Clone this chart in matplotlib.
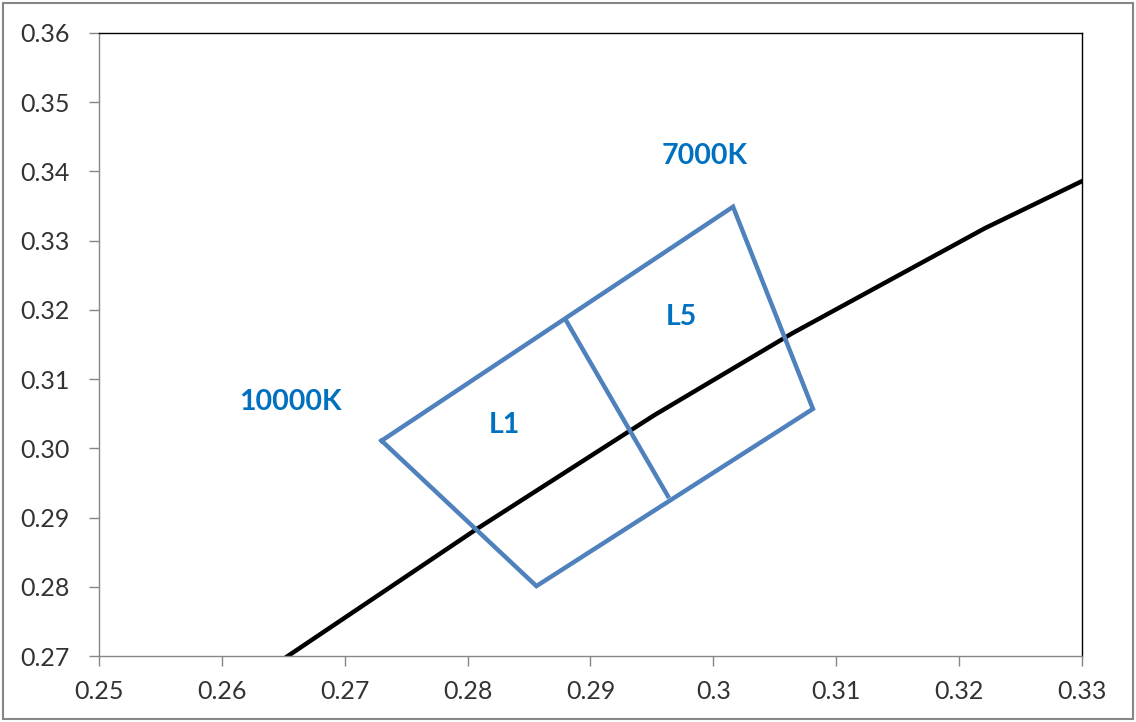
import matplotlib
matplotlib.use('Agg')
import matplotlib.pyplot as plt
from matplotlib.patches import Rectangle

plt.rcParams['font.family'] = ['Lato', 'DejaVu Sans']

# Planckian locus points (15000K, 10000K, 8000K, 7000K, 6000K, 5000K)
locus_x = [0.2637, 0.2807, 0.2952, 0.3064, 0.3221, 0.3451]
locus_y = [0.2680, 0.2883, 0.3048, 0.3166, 0.3318, 0.3516]

# bin outline: left, top, right, bottom corners
bin_x = [0.2730, 0.3016, 0.3081, 0.2856, 0.2730]
bin_y = [0.3011, 0.3349, 0.3057, 0.2801, 0.3011]
# divider between L1 and L5
div_x = [0.2880, 0.2963]
div_y = [0.3185, 0.2931]

labels = ['7000K', '10000K', 'L5', 'L1']
label_x = [0.2993, 0.2656, 0.2974, 0.2830]
label_y = [0.3422, 0.3067, 0.3190, 0.3034]

xticks = [0.25, 0.26, 0.27, 0.28, 0.29, 0.30, 0.31, 0.32, 0.33]
xticklabels = ['0.25', '0.26', '0.27', '0.28', '0.29', '0.3', '0.31', '0.32', '0.33']
yticks = [0.27, 0.28, 0.29, 0.30, 0.31, 0.32, 0.33, 0.34, 0.35, 0.36]
yticklabels = ['0.27', '0.28', '0.29', '0.30', '0.31', '0.32', '0.33', '0.34', '0.35', '0.36']

blue = '#4F81BD'
textblue = '#0070C0'
gray = '#868686'

fig = plt.figure(figsize=(11.36, 7.22), dpi=100)
ax = fig.add_axes([0.0871, 0.0914, 0.8654, 0.8629])

ax.plot(locus_x, locus_y, color='black', lw=3.2, solid_capstyle='butt')
ax.plot(bin_x, bin_y, color=blue, lw=3.2, solid_joinstyle='miter')
ax.plot(div_x, div_y, color=blue, lw=3.2)

for t, x, y in zip(labels, label_x, label_y):
    ax.text(x, y, t, color=textblue, fontsize=20.5, fontweight='bold',
            ha='center', va='center')

ax.set_xlim(0.25, 0.33)
ax.set_ylim(0.27, 0.36)
ax.set_xticks(xticks)
ax.set_xticklabels(xticklabels)
ax.set_yticks(yticks)
ax.set_yticklabels(yticklabels)

for s in ['left', 'bottom']:
    ax.spines[s].set_color(gray)
    ax.spines[s].set_linewidth(1)
for s in ['top', 'right']:
    ax.spines[s].set_color('black')
    ax.spines[s].set_linewidth(1)

ax.tick_params(axis='both', direction='out', length=7, width=1, color=gray,
               labelcolor='#333333', labelsize=18)
ax.tick_params(axis='y', pad=14)
ax.tick_params(axis='x', pad=10)

fig.patches.append(Rectangle((0.003, 0.004), 0.994, 0.992, transform=fig.transFigure,
                             fill=False, edgecolor=gray, lw=1.5))

fig.savefig('out.png', dpi=100)
